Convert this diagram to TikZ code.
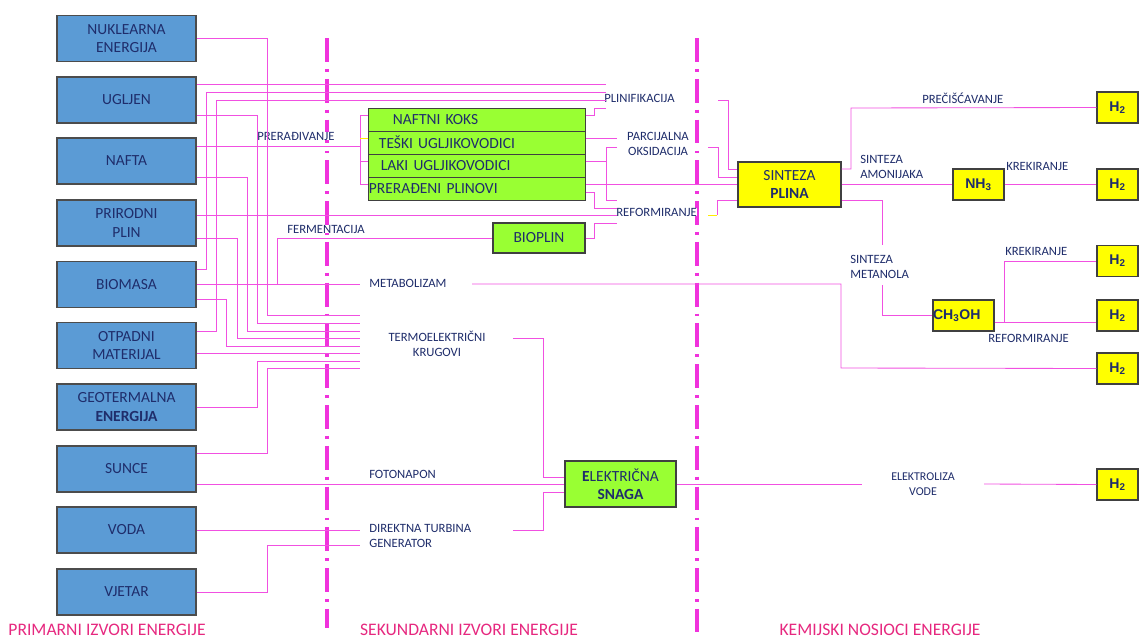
\documentclass[tikz,border=0pt]{standalone}
\usepackage{fontspec}
\setmainfont{Carlito}
\newfontfamily\arialfont{Liberation Sans}
\definecolor{boxblue}{HTML}{5B9BD5}
\definecolor{boxgreen}{HTML}{99FF33}
\definecolor{boxyellow}{HTML}{FFFF00}
\definecolor{textnavy}{HTML}{1F2D6B}
\definecolor{wirepink}{HTML}{F150E1}
\definecolor{divpink}{HTML}{F032DC}
\definecolor{zonered}{HTML}{E6287F}
\tikzset{
  wire/.style={draw=wirepink, line width=0.6pt},
  yellowwire/.style={draw=boxyellow!85!orange, line width=0.6pt},
  divider/.style={draw=divpink, line width=2.2pt, dash pattern=on 17pt off 5pt on 2pt off 5pt},
  lbl/.style={text=textnavy, fill=white, inner sep=0pt, font=\fontsize{9}{10.7}\selectfont},
  zone/.style={text=zonered, inner sep=0pt, font=\fontsize{12.5}{14}\selectfont},
}
\begin{document}
\begin{tikzpicture}[x=0.025cm, y=-0.025cm,
  primbox/.style={draw=black!70, line width=0.8pt, fill=boxblue, text=textnavy,
    minimum width=3.475cm, minimum height=1.15cm, align=center,
    font=\fontsize{11}{13}\selectfont},
  rowbox/.style={draw=black!75, line width=0.7pt, fill=boxgreen, text=textnavy,
    minimum height=0.575cm, text width=5.4cm, inner xsep=0pt, align=left,
    font=\fontsize{11}{13}\selectfont},
  greenbox/.style={draw=black!75, line width=0.8pt, fill=boxgreen, text=textnavy,
    align=center, font=\fontsize{11}{12.5}\selectfont},
  yellowbox/.style={draw=black!75, line width=0.8pt, fill=boxyellow, text=textnavy,
    align=center, font=\fontsize{11}{13}\selectfont},
  chembox/.style={draw=black!75, line width=0.8pt, fill=boxyellow, text=textnavy,
    minimum height=0.775cm, font=\arialfont\bfseries\fontsize{10}{12}\selectfont},
]
\useasboundingbox (0,0) rectangle (1139,639);

% granice
\draw[divider] (327,38) -- (327,628);
\draw[divider] (697,38) -- (697,632);

% primarni izvori
\node[primbox] (nuk) at (126.5,38.5) {NUKLEARNA\\ENERGIJA};
\node[primbox] (ugl) at (126.5,100) {UGLJEN};
\node[primbox] (naf) at (126.5,161) {NAFTA};
\node[primbox] (ppl) at (126.5,223) {PRIRODNI\\PLIN};
\node[primbox] (bio) at (126.5,284.5) {BIOMASA};
\node[primbox] (otp) at (126.5,345.5) {OTPADNI\\MATERIJAL};
\node[primbox] (geo) at (126.5,407) {GEOTERMALNA\\\textbf{ENERGIJA}};
\node[primbox] (sun) at (126.5,469) {SUNCE};
\node[primbox] (vod) at (126.5,530) {VODA};
\node[primbox] (vje) at (126.5,592) {VJETAR};

% sekundarni izvori
\node[rowbox] (koks) at (477,119.5) {\hspace*{0.6cm}NAFTNI KOKS};
\node[rowbox] (teski) at (477,142.5) {\hspace*{0.25cm}TEŠKI UGLJIKOVODICI};
\node[rowbox] (laki) at (477,165.5) {\hspace*{0.3cm}LAKI UGLJIKOVODICI};
\node[rowbox] (prer) at (477,188.5) {PRERAĐENI PLINOVI};
\node[greenbox, minimum width=2.3cm, minimum height=0.75cm] (bioplin) at (539,238) {BIOPLIN};
\node[greenbox, minimum width=2.775cm, minimum height=1.15cm] (elek) at (620.5,484)
  {\textbf{E}LEKTRIČNA\\\textbf{SNAGA}};

% kemijski nosioci
\node[yellowbox, minimum width=2.575cm, minimum height=1.125cm] (sinteza) at (789.5,184.5)
  {SINTEZA\\\textbf{PLINA}};
\node[chembox, minimum width=1.275cm] (nh3) at (978.5,184.5) {NH\textsubscript{3}};
\node[chembox, text width=1.525cm, inner xsep=0pt, align=left] (ch3oh) at (963.5,315.5) {CH\textsubscript{3}OH};
\node[chembox, minimum width=1.025cm] (h2a) at (1117.5,107.5) {H\textsubscript{2}};
\node[chembox, minimum width=1.025cm] (h2b) at (1117.5,184.5) {H\textsubscript{2}};
\node[chembox, minimum width=1.025cm] (h2c) at (1117.5,261) {H\textsubscript{2}};
\node[chembox, minimum width=1.025cm] (h2d) at (1117.5,315.5) {H\textsubscript{2}};
\node[chembox, minimum width=1.025cm] (h2e) at (1117.5,368.5) {H\textsubscript{2}};
\node[chembox, minimum width=1.025cm] (h2f) at (1117.5,484.5) {H\textsubscript{2}};

% procesi
\node[lbl, anchor=west] (plinif) at (604,98) {PLINIFIKACIJA};
\node[lbl, anchor=west] (prerad) at (257,136) {PRERAĐIVANJE};
\node[lbl, align=center] (parc) at (658,143.5) {PARCIJALNA\\OKSIDACIJA};
\node[lbl, anchor=west] (reform) at (616,212) {REFORMIRANJE};
\node[lbl, anchor=west] (ferm) at (287,229) {FERMENTACIJA};
\node[lbl, anchor=west] (metab) at (369,283) {METABOLIZAM};
\node[lbl, align=center] (termo) at (437,343.5) {TERMOELEKTRIČNI\\KRUGOVI};
\node[lbl, anchor=west] (foto) at (369,474) {FOTONAPON};
\node[lbl, anchor=west, align=left] (direkt) at (369,535.5) {DIREKTNA TURBINA\\GENERATOR};
\node[lbl, anchor=west] (precis) at (922,98) {PREČIŠĆAVANJE};
\node[lbl, anchor=west, align=left] (sintam) at (860,166.5) {SINTEZA\\AMONIJAKA};
\node[lbl, anchor=west] (krek1) at (1006,166) {KREKIRANJE};
\node[lbl, anchor=west, align=left] (sintme) at (850,266.5) {SINTEZA\\METANOLA};
\node[lbl, anchor=west] (krek2) at (1005,251) {KREKIRANJE};
\node[lbl, anchor=west] (reform2) at (988,338) {REFORMIRANJE};
\node[lbl, align=center, font=\fontsize{8.5}{10.7}\selectfont] (elektr) at (923,484.5) {ELEKTROLIZA\\VODE};

% ulazi i izlazi procesa
\coordinate (plinin) at (606,98);
\coordinate (plinout) at (718,100);
\coordinate (parcin) at (617,143);
\coordinate (parcout) at (708,147);
\coordinate (refin) at (617,212);
\coordinate (refout) at (708,215);
\coordinate (termoin) at (360,343);
\coordinate (termoout) at (513,338);
\coordinate (metabin) at (360,284);
\coordinate (metabout) at (472,284);
\coordinate (direktin) at (360,536);
\coordinate (direktout) at (513,530);
\coordinate (elin) at (862,484);
\coordinate (elout) at (984,484);

% termoelektricni krugovi
\draw[wire] (nuk.east |- 0,38) -| (267,315) -- (termoin |- 0,315);
\draw[wire] (ugl.east |- 0,115) -| (257,323) -- (termoin |- 0,323);
\draw[wire] (naf.east |- 0,177) -| (247,331) -- (termoin |- 0,331);
\draw[wire] (ppl.east |- 0,238) -| (237,338) -- (termoin |- 0,338);
\draw[wire] (bio.east |- 0,299) -| (226,346) -- (termoin |- 0,346);
\draw[wire] (otp.east |- 0,353) -- (termoin |- 0,353);
\draw[wire] (geo.east |- 0,407) -| (257,361) -- (termoin |- 0,361);
\draw[wire] (sun.east |- 0,453) -| (267,368) -- (termoin |- 0,368);
\draw[wire] (termoout) -| (543,477) -- (elek.west |- 0,477);

% plinifikacija
\draw[wire] (ugl.east |- 0,84) -- (plinin |- 0,84);
\draw[wire] (bio.east |- 0,269) -| (206,92) -- (plinin |- 0,92);
\draw[wire] (otp.east |- 0,331) -| (216,100) -- (plinin |- 0,100);
\draw[wire] (koks.east |- 0,115) -| (594,108) -- (plinin |- 0,108);
\draw[wire] (plinout) -| (728,169) -- (sinteza.west |- 0,169);

% preradivanje
\draw[wire] (naf.east |- 0,146) -- (360,146);
\draw[wire] (koks.west |- 0,115) -| (360,184) -- (prer.west |- 0,184);
\draw[wire] (laki.west |- 0,161) -- (360,161);
\draw[yellowwire] (teski.west |- 0,138) -- (360,138);

% parcijalna oksidacija
\draw[wire] (teski.east |- 0,138) -- (parcin |- 0,138);
\draw[wire] (laki.east |- 0,161) -- (606,161);
\draw[wire] (parcin |- 0,147) -| (606,200) -- (refin |- 0,200);
\draw[wire] (parcout) -| (718,177) -- (sinteza.west |- 0,177);

% reformiranje
\draw[wire] (prer.east |- 0,184) -- (sinteza.west |- 0,184);
\draw[wire] (prer.east |- 0,192) -| (594,208) -- (refin |- 0,208);
\draw[wire] (ppl.east |- 0,215) -- (refin |- 0,215);
\draw[wire] (bioplin.east) -| (594,223) -- (refin |- 0,223);
\draw[yellowwire] (refout) -- (717,215);
\draw[wire] (717,215) |- (sinteza.west |- 0,200);

% fermentacija i metabolizam
\draw[wire] (bio.east |- 0,284) -- (metabin);
\draw[wire] (277,284) |- (bioplin.west);
\draw[wire] (metabout) -| (841,368) -- (h2e.west);

% elektricna snaga
\draw[wire] (sun.east |- 0,484) -- (elek.west |- 0,484);
\draw[wire] (vod.east |- 0,530) -- (direktin |- 0,530);
\draw[wire] (vje.east |- 0,592) -| (267,545) -- (direktin |- 0,545);
\draw[wire] (direktout) -| (543,492) -- (elek.west |- 0,492);
\draw[wire] (elek.east) -- (elin);
\draw[wire] (elout) -- (h2f.west);

% sinteza plina
\draw[wire] (sinteza.east |- 0,169) -| (851,108) -- (h2a.west);
\draw[wire] (sinteza.east) -- (nh3.west);
\draw[wire] (nh3.east) -- (h2b.west);
\draw[wire] (sinteza.east |- 0,200) -| (882,245);
\draw[wire] (882,285) |- (ch3oh.west);
\draw[wire] (ch3oh.east |- 0,322) -- (h2d.west |- 0,322);
\draw[wire] (1004,322) |- (h2c.west);

% podrucja
\node[zone] (prim) at (107,630) {PRIMARNI IZVORI ENERGIJE};
\node[zone] (sek) at (469,630) {SEKUNDARNI IZVORI ENERGIJE};
\node[zone] (kem) at (880,630) {KEMIJSKI NOSIOCI ENERGIJE};
\end{tikzpicture}
\end{document}
